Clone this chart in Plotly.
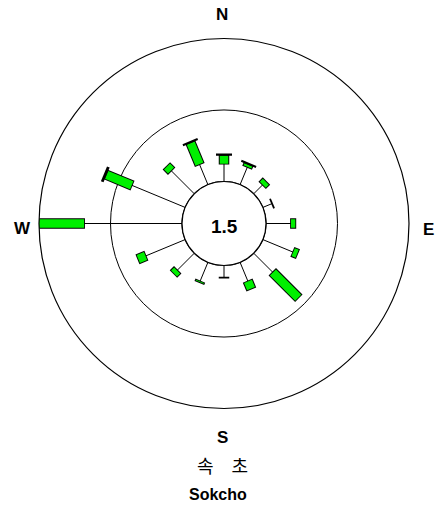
import plotly.graph_objects as go

# ---- data (percent frequency by direction and speed class) ----
directions = ["N", "NNE", "NE", "ENE", "E", "ESE", "SE", "SSE",
              "S", "SSW", "SW", "WSW", "W", "WNW", "NW", "NNW"]
angles = [i * 22.5 for i in range(16)]
calm = 1.5
class_low = [2.5, 2.7, 1.8, 1.4, 3.5, 4.6, 3.8, 2.9,
             1.7, 2.9, 3.4, 6.0, 13.7, 8.1, 4.6, 3.1]
class_mid = [1.1, 0.3, 0.6, 0.0, 0.6, 0.6, 5.0, 1.1,
             0.0, 0.1, 0.6, 1.1, 6.3, 3.8, 0.8, 3.2]
class_high = [0.3, 0.3, 0.0, 0.0, 0.0, 0.0, 0.0, 0.0,
              0.0, 0.0, 0.0, 0.0, 0.6, 0.4, 0.0, 0.3]
ring_values = [10]
r_max = 20
station_kr = "속\u3000초"
station_en = "Sokcho"

W, H = 435, 508
cx, cy, R, R_hole = 224, 223.5, 185, 42
px_per_unit = (R - R_hole) / r_max
delta = 0.9 / px_per_unit


def px(x):
    return x / W


def py(y):
    return 1 - y / H


spoke_r, spoke_t = [], []
out_r, out_t = [], []
grn_r, grn_t = [], []
cap_r, cap_t = [], []
for a, l1, l2, l3 in zip(angles, class_low, class_mid, class_high):
    spoke_r += [0, l1, None]; spoke_t += [a, a, None]
    out_r += [l1 - delta, l1 + l2 + delta, None]; out_t += [a, a, None]
    if l2 > 0:
        grn_r += [l1, l1 + l2, None]; grn_t += [a, a, None]
    if l3 > 0:
        cap_r += [l1 + l2, l1 + l2 + l3, None]; cap_t += [a, a, None]

fig = go.Figure()
circ_t = [i for i in range(0, 361, 2)]
fig.add_trace(go.Scatterpolar(r=[0] * len(circ_t), theta=circ_t, mode="lines",
                              line=dict(color="black", width=1.2), cliponaxis=False,
                              hoverinfo="skip"))
fig.add_trace(go.Scatterpolar(r=spoke_r, theta=spoke_t, mode="lines",
                              line=dict(color="black", width=1), cliponaxis=False))
fig.add_trace(go.Scatterpolar(r=out_r, theta=out_t, mode="lines",
                              line=dict(color="black", width=10.5), cliponaxis=False))
fig.add_trace(go.Scatterpolar(r=grn_r, theta=grn_t, mode="lines",
                              line=dict(color="#00f000", width=8.5), cliponaxis=False))
fig.add_trace(go.Scatterpolar(r=cap_r, theta=cap_t, mode="lines",
                              line=dict(color="black", width=16), cliponaxis=False))

fig.update_layout(
    width=W, height=H, margin=dict(l=0, r=0, t=0, b=0),
    paper_bgcolor="white", showlegend=False,
    polar=dict(
        domain=dict(x=[(cx - R) / W, (cx + R) / W],
                    y=[1 - (cy + R) / H, 1 - (cy - R) / H]),
        hole=R_hole / R,
        bgcolor="white",
        radialaxis=dict(range=[0, r_max], tickvals=ring_values, showticklabels=False,
                        ticks="", showline=False, showgrid=True,
                        gridcolor="black", gridwidth=1.2),
        angularaxis=dict(rotation=90, direction="clockwise", showgrid=False,
                         showticklabels=False, ticks="", showline=True,
                         linecolor="black", linewidth=1.2),
    ),
)

lab_font = dict(family="Liberation Sans, Arial", size=17, color="black", weight="bold")
labels = [("N", 222, 15), ("E", 428, 229), ("S", 222, 437), ("W", 22, 228)]
for t, x, y in labels:
    fig.add_annotation(text=t, x=px(x), y=py(y), xref="paper", yref="paper",
                       showarrow=False, font=lab_font, xanchor="center", yanchor="middle")
fig.add_annotation(text=str(calm), x=px(224), y=py(226), xref="paper", yref="paper",
                   showarrow=False, xanchor="center", yanchor="middle",
                   font=dict(family="Liberation Sans, Arial", size=19, color="black", weight="bold"))
fig.add_annotation(text=station_kr, x=px(222), y=py(465), xref="paper", yref="paper",
                   showarrow=False, xanchor="center", yanchor="middle",
                   font=dict(family="Noto Sans CJK KR", size=18, color="black"))
fig.add_annotation(text=station_en, x=px(218), y=py(494), xref="paper", yref="paper",
                   showarrow=False, xanchor="center", yanchor="middle",
                   font=dict(family="Liberation Sans, Arial", size=16, color="black", weight="bold"))

fig.write_html("out.html", config={"displayModeBar": False},
               post_script="document.body.style.margin='0';document.body.style.overflow='hidden';")
